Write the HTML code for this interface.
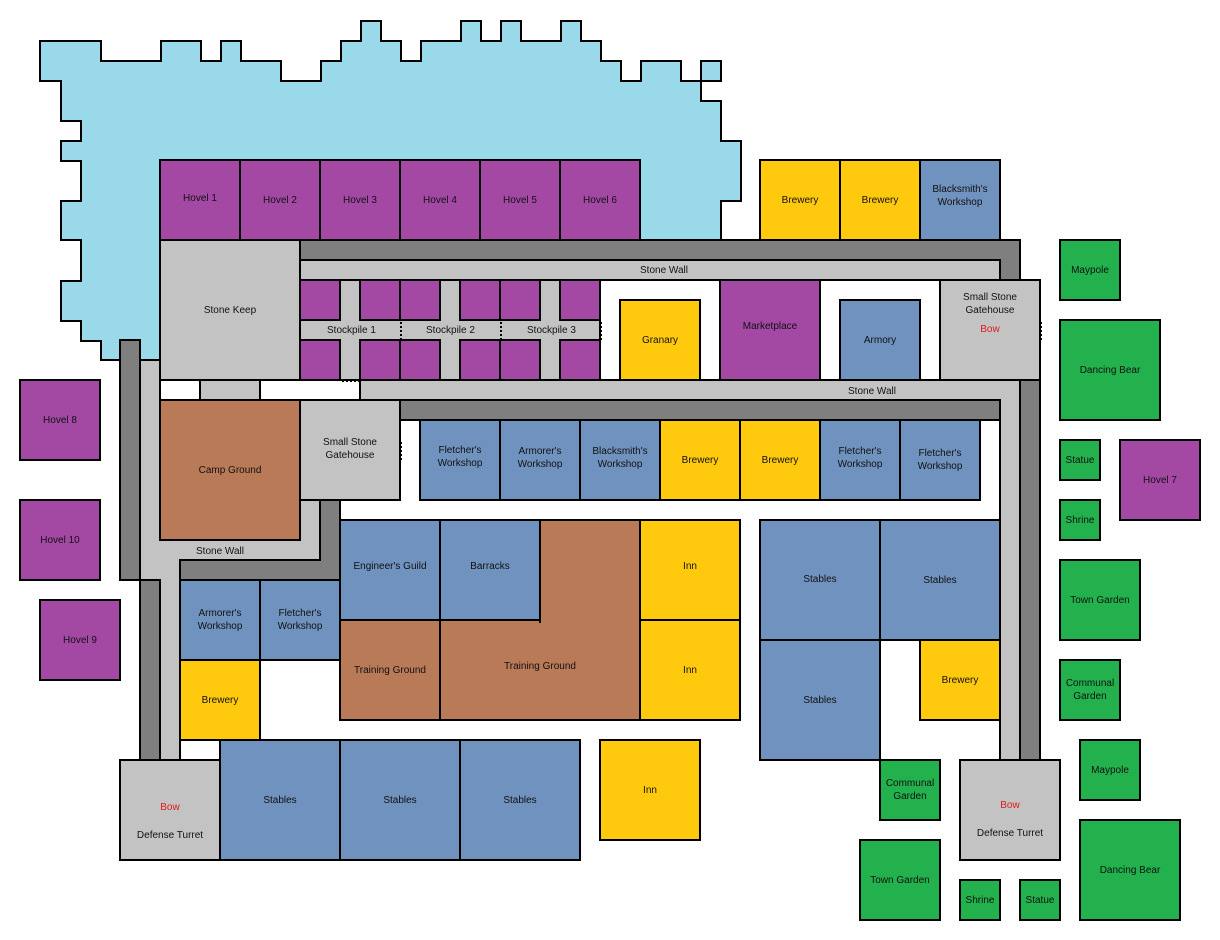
<!DOCTYPE html>
<html><head><meta charset="utf-8"><style>
body{margin:0;width:1220px;height:940px;background:#fff;position:relative;overflow:hidden;font-family:"Liberation Sans",sans-serif;font-size:10px;color:#111}
.b{position:absolute;box-sizing:border-box;border:2px solid #000;display:flex;align-items:center;justify-content:center;text-align:center;line-height:13px}
.p{background:#a349a4}.y{background:#ffc90e}.u{background:#7092be}.g{background:#22b14c}.r{background:#b97a57}.l{background:#c3c3c3}.d{background:#7f7f7f}
.t{position:absolute;font-size:10px;white-space:nowrap}
.red{color:#e01a1a}
</style></head><body>
<svg width="1220" height="940" style="position:absolute;left:0;top:0">
<polygon fill="#99d9ea" stroke="#000" stroke-width="2" points="40,41 101,41 101,61 161,61 161,41 201,41 201,61 221,61 221,41 241,41 241,61 281,61 281,81 321,81 321,61 341,61 341,41 361,41 361,21 381,21 381,41 401,41 401,61 421,61 421,41 461,41 461,21 481,21 481,41 501,41 501,21 521,21 521,41 561,41 561,21 581,21 581,41 601,41 601,61 621,61 621,81 641,81 641,61 681,61 681,81 701,81 701,101 721,101 721,141 741,141 741,201 721,201 721,240 160,240 160,360 101,360 101,341 81,341 81,321 61,321 61,281 81,281 81,240 61,240 61,201 81,201 81,161 61,161 61,141 81,141 81,121 61,121 61,81 40,81"/>
<rect x="701" y="61" width="20" height="20" fill="#99d9ea" stroke="#000" stroke-width="2"/>
<g stroke="#000" stroke-width="2">
<polygon fill="#7f7f7f" points="300,240 1020,240 1020,280 1000,280 1000,260 300,260"/>
<rect x="300" y="260" width="700" height="20" fill="#c3c3c3"/>
<rect x="1020" y="380" width="20" height="380" fill="#7f7f7f"/>
<polygon fill="#c3c3c3" points="360,380 1020,380 1020,760 1000,760 1000,400 360,400"/>
<rect x="400" y="400" width="600" height="20" fill="#7f7f7f"/>
<rect x="120" y="340" width="20" height="240" fill="#7f7f7f"/>
<rect x="140" y="580" width="20" height="180" fill="#7f7f7f"/>
<polygon fill="#c3c3c3" points="140,360 160,360 160,540 300,540 300,500 320,500 320,560 180,560 180,760 160,760 160,580 140,580"/>
<polygon fill="#7f7f7f" points="320,500 340,500 340,580 180,580 180,560 320,560"/>
<rect x="300" y="280" width="300" height="100" fill="#c3c3c3"/>
<rect x="200" y="380" width="60" height="20" fill="#c3c3c3"/>
</g>
<g stroke="#000" stroke-width="2" stroke-dasharray="2,2">
<line x1="401" y1="322" x2="401" y2="340"/><line x1="501" y1="322" x2="501" y2="340"/><line x1="601" y1="322" x2="601" y2="340"/>
<line x1="342" y1="381" x2="360" y2="381"/><line x1="222" y1="401" x2="240" y2="401"/>
<line x1="301" y1="442" x2="301" y2="460"/><line x1="401" y1="442" x2="401" y2="460"/>
<line x1="941" y1="322" x2="941" y2="340"/><line x1="1041" y1="322" x2="1041" y2="340"/>
</g>
</svg>
<span class="t" style="left:640px;top:265px">Stone Wall</span>
<span class="t" style="left:848px;top:386px">Stone Wall</span>
<span class="t" style="left:196px;top:546px">Stone Wall</span>
<span class="t" style="left:327px;top:325px">Stockpile 1</span>
<span class="t" style="left:426px;top:325px">Stockpile 2</span>
<span class="t" style="left:527px;top:325px">Stockpile 3</span>

<div class="b p" style="left:159px;top:159px;width:82px;height:82px;padding-bottom:4px">Hovel 1</div>
<div class="b p" style="left:239px;top:159px;width:82px;height:82px">Hovel 2</div>
<div class="b p" style="left:319px;top:159px;width:82px;height:82px">Hovel 3</div>
<div class="b p" style="left:399px;top:159px;width:82px;height:82px">Hovel 4</div>
<div class="b p" style="left:479px;top:159px;width:82px;height:82px">Hovel 5</div>
<div class="b p" style="left:559px;top:159px;width:82px;height:82px">Hovel 6</div>
<div class="b y" style="left:759px;top:159px;width:82px;height:82px">Brewery</div>
<div class="b y" style="left:839px;top:159px;width:82px;height:82px">Brewery</div>
<div class="b u" style="left:919px;top:159px;width:82px;height:82px;padding-bottom:8px">Blacksmith's<br>Workshop</div>

<div class="b l" style="left:159px;top:239px;width:142px;height:142px">Stone Keep</div>

<div class="b p" style="left:299px;top:279px;width:42px;height:42px"></div>
<div class="b p" style="left:359px;top:279px;width:42px;height:42px"></div>
<div class="b p" style="left:399px;top:279px;width:42px;height:42px"></div>
<div class="b p" style="left:459px;top:279px;width:42px;height:42px"></div>
<div class="b p" style="left:499px;top:279px;width:42px;height:42px"></div>
<div class="b p" style="left:559px;top:279px;width:42px;height:42px"></div>
<div class="b p" style="left:299px;top:339px;width:42px;height:42px"></div>
<div class="b p" style="left:359px;top:339px;width:42px;height:42px"></div>
<div class="b p" style="left:399px;top:339px;width:42px;height:42px"></div>
<div class="b p" style="left:459px;top:339px;width:42px;height:42px"></div>
<div class="b p" style="left:499px;top:339px;width:42px;height:42px"></div>
<div class="b p" style="left:559px;top:339px;width:42px;height:42px"></div>

<div class="b y" style="left:619px;top:299px;width:82px;height:82px">Granary</div>
<div class="b p" style="left:719px;top:279px;width:102px;height:102px;padding-bottom:8px">Marketplace</div>
<div class="b u" style="left:839px;top:299px;width:82px;height:82px">Armory</div>
<div class="b l" style="left:939px;top:279px;width:102px;height:102px;flex-direction:column;justify-content:flex-start;padding-top:10px"><span>Small Stone<br>Gatehouse</span><span class="red" style="margin-top:6px">Bow</span></div>

<div class="b r" style="left:159px;top:399px;width:142px;height:142px">Camp Ground</div>
<div class="b l" style="left:299px;top:399px;width:102px;height:102px;padding-bottom:2px">Small Stone<br>Gatehouse</div>

<div class="b u" style="left:419px;top:419px;width:82px;height:82px;padding-bottom:6px">Fletcher's<br>Workshop</div>
<div class="b u" style="left:499px;top:419px;width:82px;height:82px;padding-bottom:4px">Armorer's<br>Workshop</div>
<div class="b u" style="left:579px;top:419px;width:82px;height:82px;padding-bottom:4px">Blacksmith's<br>Workshop</div>
<div class="b y" style="left:659px;top:419px;width:82px;height:82px">Brewery</div>
<div class="b y" style="left:739px;top:419px;width:82px;height:82px">Brewery</div>
<div class="b u" style="left:819px;top:419px;width:82px;height:82px;padding-bottom:4px">Fletcher's<br>Workshop</div>
<div class="b u" style="left:899px;top:419px;width:82px;height:82px">Fletcher's<br>Workshop</div>

<div class="b p" style="left:19px;top:379px;width:82px;height:82px">Hovel 8</div>
<div class="b p" style="left:19px;top:499px;width:82px;height:82px">Hovel 10</div>
<div class="b p" style="left:39px;top:599px;width:82px;height:82px">Hovel 9</div>

<div class="b r" style="left:439px;top:619px;width:202px;height:102px;padding-bottom:8px">Training Ground</div>
<div class="b r" style="left:539px;top:519px;width:102px;height:104px;border-bottom:none"></div>
<div class="b u" style="left:339px;top:519px;width:102px;height:102px;padding-bottom:8px">Engineer's Guild</div>
<div class="b u" style="left:439px;top:519px;width:102px;height:102px;padding-bottom:8px">Barracks</div>
<div class="b r" style="left:339px;top:619px;width:102px;height:102px">Training Ground</div>
<div class="b y" style="left:639px;top:519px;width:102px;height:102px;padding-bottom:8px">Inn</div>
<div class="b y" style="left:639px;top:619px;width:102px;height:102px">Inn</div>

<div class="b u" style="left:179px;top:579px;width:82px;height:82px">Armorer's<br>Workshop</div>
<div class="b u" style="left:259px;top:579px;width:82px;height:82px">Fletcher's<br>Workshop</div>
<div class="b y" style="left:179px;top:659px;width:82px;height:82px">Brewery</div>

<div class="b l" style="left:119px;top:759px;width:102px;height:102px;flex-direction:column;padding-top:22px"><span class="red">Bow</span><span style="margin-top:15px">Defense Turret</span></div>
<div class="b u" style="left:219px;top:739px;width:122px;height:122px">Stables</div>
<div class="b u" style="left:339px;top:739px;width:122px;height:122px">Stables</div>
<div class="b u" style="left:459px;top:739px;width:122px;height:122px">Stables</div>
<div class="b y" style="left:599px;top:739px;width:102px;height:102px">Inn</div>

<div class="b u" style="left:759px;top:519px;width:122px;height:122px;padding-bottom:2px">Stables</div>
<div class="b u" style="left:879px;top:519px;width:122px;height:122px">Stables</div>
<div class="b u" style="left:759px;top:639px;width:122px;height:122px">Stables</div>
<div class="b y" style="left:919px;top:639px;width:82px;height:82px">Brewery</div>
<div class="b g" style="left:879px;top:759px;width:62px;height:62px">Communal<br>Garden</div>
<div class="b l" style="left:959px;top:759px;width:102px;height:102px;flex-direction:column;padding-top:18px"><span class="red">Bow</span><span style="margin-top:15px">Defense Turret</span></div>
<div class="b g" style="left:859px;top:839px;width:82px;height:82px">Town Garden</div>
<div class="b g" style="left:959px;top:879px;width:42px;height:42px">Shrine</div>
<div class="b g" style="left:1019px;top:879px;width:42px;height:42px">Statue</div>

<div class="b g" style="left:1059px;top:239px;width:62px;height:62px">Maypole</div>
<div class="b g" style="left:1059px;top:319px;width:102px;height:102px">Dancing Bear</div>
<div class="b g" style="left:1059px;top:439px;width:42px;height:42px">Statue</div>
<div class="b p" style="left:1119px;top:439px;width:82px;height:82px">Hovel 7</div>
<div class="b g" style="left:1059px;top:499px;width:42px;height:42px">Shrine</div>
<div class="b g" style="left:1059px;top:559px;width:82px;height:82px">Town Garden</div>
<div class="b g" style="left:1059px;top:659px;width:62px;height:62px">Communal<br>Garden</div>
<div class="b g" style="left:1079px;top:739px;width:62px;height:62px">Maypole</div>
<div class="b g" style="left:1079px;top:819px;width:102px;height:102px">Dancing Bear</div>
</body></html>
